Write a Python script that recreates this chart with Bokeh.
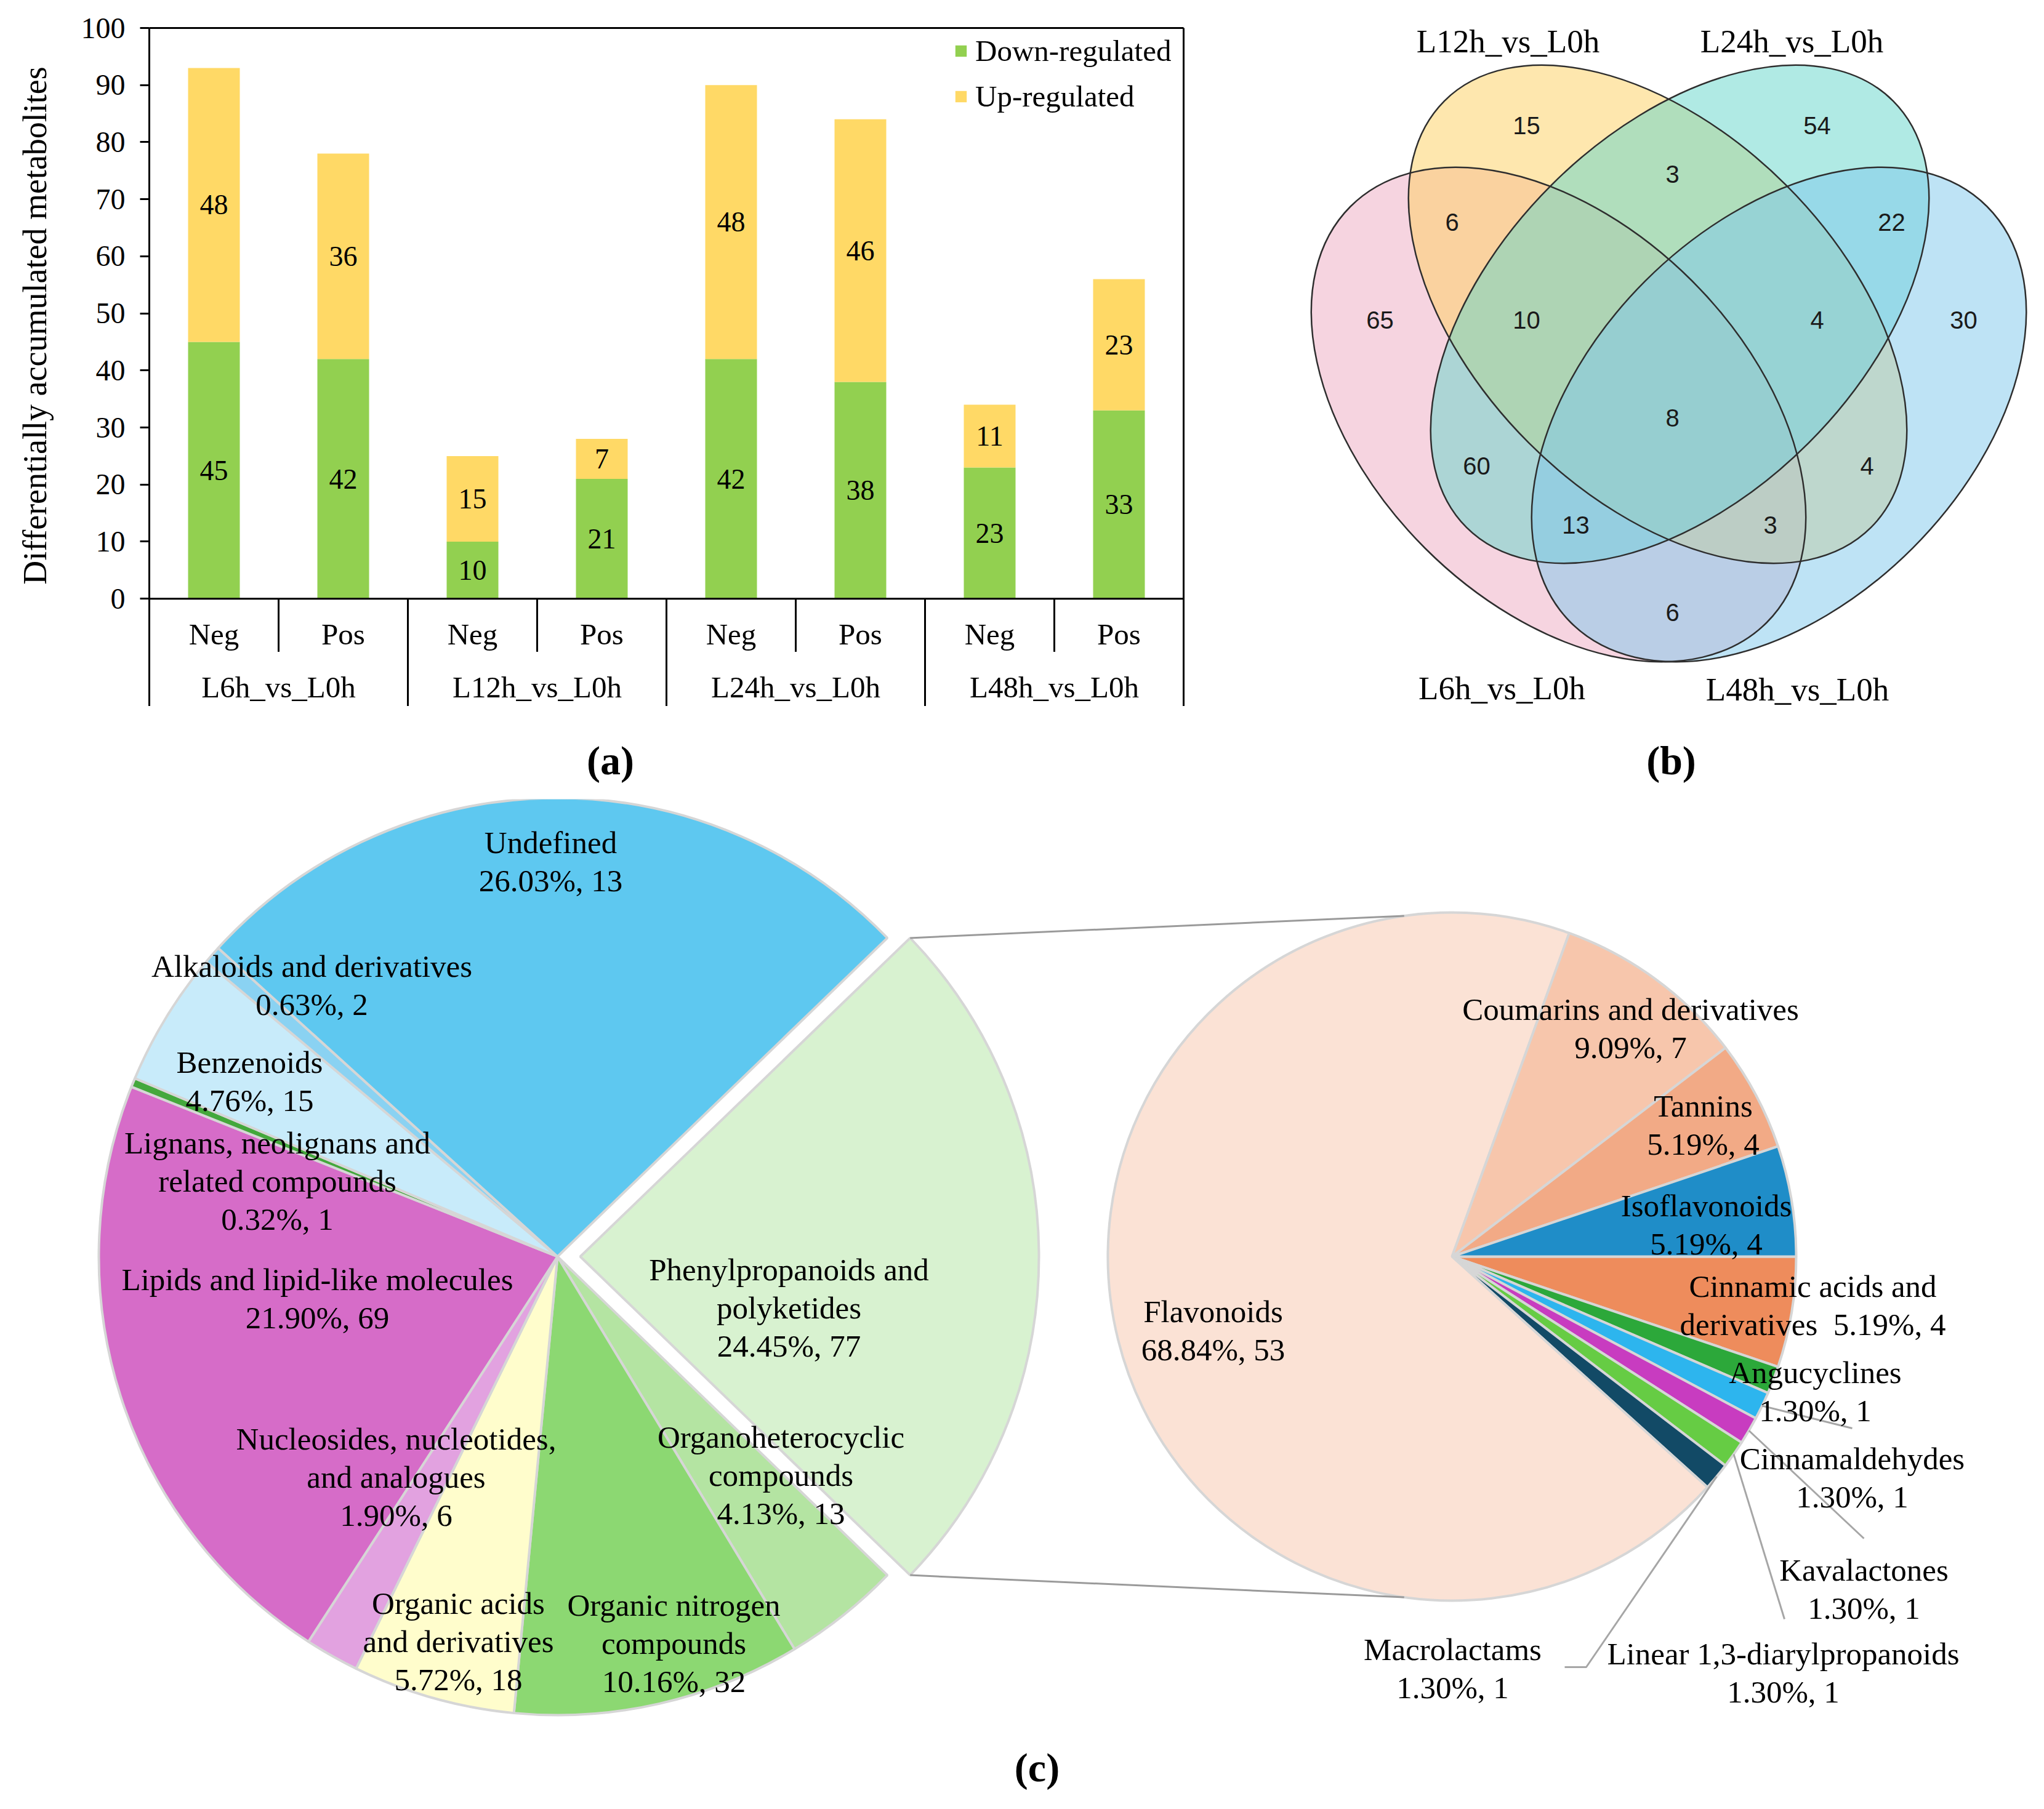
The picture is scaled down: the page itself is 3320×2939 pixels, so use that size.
import math
from bokeh.plotting import figure
from bokeh.layouts import row, column
from bokeh.models import (Range1d, LinearAxis, FixedTicker, Span, ColumnDataSource,
                          Legend, LegendItem)
from bokeh.core.properties import value
from bokeh.embed import file_html
from bokeh.resources import INLINE

# ======================= DATA =======================
# (a) stacked bars
groups = ["L6h_vs_L0h", "L12h_vs_L0h", "L24h_vs_L0h", "L48h_vs_L0h"]
modes = ["Neg", "Pos"]
down_regulated = [45, 42, 10, 21, 42, 38, 23, 33]
up_regulated = [48, 36, 15, 7, 48, 46, 11, 23]
y_ticks = [0, 10, 20, 30, 40, 50, 60, 70, 80, 90, 100]
series_names = ["Down-regulated", "Up-regulated"]
y_title = "Differentially accumulated metabolites"

# (b) Venn: membership code = (L6h, L12h, L24h, L48h)
venn_sets = ["L6h_vs_L0h", "L12h_vs_L0h", "L24h_vs_L0h", "L48h_vs_L0h"]
venn_regions = ["1000", "0100", "0010", "0001", "1100", "0110", "0011", "1010",
                "0101", "1001", "1110", "0111", "1011", "1101", "1111"]
venn_counts = [65, 15, 54, 30, 6, 3, 22, 60, 4, 6, 10, 4, 13, 3, 8]

# (c) pie of pie, listed clockwise
main_classes = ["Phenylpropanoids and polyketides", "Organoheterocyclic compounds",
                "Organic nitrogen compounds", "Organic acids and derivatives",
                "Nucleosides, nucleotides, and analogues", "Lipids and lipid-like molecules",
                "Lignans, neolignans and related compounds", "Benzenoids",
                "Alkaloids and derivatives", "Undefined"]
main_percent = [24.45, 4.13, 10.16, 5.72, 1.90, 21.90, 0.32, 4.76, 0.63, 26.03]
main_count = [77, 13, 32, 18, 6, 69, 1, 15, 2, 13]

sub_classes = ["Cinnamic acids and derivatives", "Angucyclines", "Cinnamaldehydes",
               "Kavalactones", "Linear 1,3-diarylpropanoids", "Macrolactams",
               "Flavonoids", "Coumarins and derivatives", "Tannins", "Isoflavonoids"]
sub_percent = [5.19, 1.30, 1.30, 1.30, 1.30, 1.30, 68.84, 9.09, 5.19, 5.19]
sub_count = [4, 1, 1, 1, 1, 1, 53, 7, 4, 4]

# ======================= STYLE / LAYOUT =======================
SERIF = "Liberation Serif"
SANS = "Liberation Sans"
PAGE_H = 2939
GREEN, YELLOW = "#92D050", "#FFD966"
TOP_H = 1147      # bottom of the top row (page px)
STRIP_H = 151     # strip holding the (a)/(b) captions
W_A = 2048
W_TOT = 3316
C_H = 1637
NBSP = "\u00a0"


def U(y):
    """page y (down) -> y-up units"""
    return PAGE_H - y


# ---------- (a) ----------
Y_BOTTOM = -18.85
n = len(down_regulated)
pa = figure(width=W_A, height=TOP_H, x_range=Range1d(0, n), y_range=Range1d(Y_BOTTOM, 100),
            x_axis_type=None, y_axis_type=None, output_backend="svg", toolbar_location=None,
            min_border_left=242, min_border_right=126, min_border_top=45, min_border_bottom=0)
pa.outline_line_color = None
pa.grid.visible = False

# leading no-break spaces lift the title so it is centred on the 0-100 span
yax = LinearAxis(ticker=FixedTicker(ticks=y_ticks), axis_label=NBSP * 10 + y_title)
yax.axis_line_width = 3
yax.axis_line_color = "black"
yax.major_tick_out = 15
yax.major_tick_in = 0
yax.major_tick_line_width = 3
yax.minor_tick_line_color = None
yax.major_label_text_font = SERIF
yax.major_label_text_font_size = "48px"
yax.major_label_text_color = "black"
yax.major_label_standoff = 24
yax.axis_label_text_font = SERIF
yax.axis_label_text_font_size = "54px"
yax.axis_label_text_font_style = "normal"
yax.axis_label_text_color = "black"
yax.axis_label_standoff = 42
pa.add_layout(yax, "left")

for side in ("above", "right"):
    ax = LinearAxis(ticker=FixedTicker(ticks=[]))
    ax.axis_line_width = 3
    ax.axis_line_color = "black"
    ax.major_tick_line_color = None
    ax.minor_tick_line_color = None
    ax.major_label_text_font_size = "0px"
    pa.add_layout(ax, side)

pa.add_layout(Span(location=0, dimension="width", line_color="black", line_width=3))

xs = [i + 0.5 for i in range(n)]
src = ColumnDataSource(dict(x=xs, down=down_regulated, up=up_regulated))
rs = pa.vbar_stack(["down", "up"], x="x", width=0.4, color=[GREEN, YELLOW],
                   line_color=None, source=src)

lab_x, lab_y, lab_t = [], [], []
for x, d, u in zip(xs, down_regulated, up_regulated):
    lab_x += [x, x]
    lab_y += [d / 2, d + u / 2]
    lab_t += [str(d), str(u)]
pa.text(x=lab_x, y=lab_y, text=lab_t, text_font=value(SERIF), text_font_size=value("46px"),
        text_align="center", text_baseline="middle", text_color="black")

sub_labels = [m for g in groups for m in modes]
pa.text(x=xs, y=[-6.26] * n, text=sub_labels, text_font=value(SERIF),
        text_font_size=value("49px"), text_align="center", text_baseline="middle",
        text_color="black")
gx = [len(modes) * (i + 0.5) for i in range(len(groups))]
pa.text(x=gx, y=[-15.5] * len(groups), text=groups, text_font=value(SERIF),
        text_font_size=value("49px"), text_align="center", text_baseline="middle",
        text_color="black")
sx0, sx1, sy0, sy1 = [], [], [], []
for i in range(1, n):
    sx0.append(i); sx1.append(i); sy0.append(0)
    sy1.append(Y_BOTTOM if i % len(modes) == 0 else -9.3)
pa.segment(x0=sx0, y0=sy0, x1=sx1, y1=sy1, line_color="black", line_width=3)

legend = Legend(items=[LegendItem(label=series_names[0], renderers=[rs[0]]),
                       LegendItem(label=series_names[1], renderers=[rs[1]])],
                location=(1307, 962))
legend.glyph_width = 23
legend.glyph_height = 23
legend.label_height = 57
legend.spacing = 17
legend.padding = 0
legend.margin = 0
legend.label_standoff = 12
legend.label_text_font = SERIF
legend.label_text_font_size = "49px"
legend.label_text_color = "black"
legend.border_line_color = None
legend.background_fill_alpha = 0
pa.add_layout(legend)

# ---------- (b) Venn ----------
pb = figure(width=W_TOT - W_A, height=TOP_H, x_range=Range1d(W_A, W_TOT),
            y_range=Range1d(U(TOP_H), U(45)),
            x_axis_type=None, y_axis_type=None, output_backend="svg", toolbar_location=None,
            min_border_left=0, min_border_right=0, min_border_top=45, min_border_bottom=0)
pb.outline_line_color = None
pb.grid.visible = False

# ellipse layout (page px): pink L6h, yellow L12h, teal L24h, blue L48h
ell_cx = [2531, 2692, 2728, 2889]
ell_cy = [673, 510, 510, 673]
ell_w = [956, 980, 980, 956]
ell_h = [614, 592, 592, 614]
ell_ang = [-math.pi / 4, -math.pi / 4, math.pi / 4, math.pi / 4]
ell_col = ["#EDA9C1", "#FDCF5D", "#61D5C9", "#7DC7EB"]
for i in range(4):
    pb.ellipse(x=[ell_cx[i]], y=[U(ell_cy[i])], width=[ell_w[i]], height=[ell_h[i]],
               angle=[ell_ang[i]], fill_color=ell_col[i], fill_alpha=0.5, line_color=None)
pb.ellipse(x=ell_cx, y=[U(v) for v in ell_cy], width=ell_w, height=ell_h, angle=ell_ang,
           fill_color=None, line_color="#2e2e2e", line_width=2.5)

region_pos = {"1000": (2241, 519), "0100": (2479, 203), "0010": (2951, 203), "0001": (3189, 519),
              "1100": (2358, 360), "0110": (2716, 282), "0011": (3072, 360), "1010": (2398, 756),
              "0101": (3032, 756), "1001": (2716, 994), "1110": (2479, 519), "0111": (2951, 519),
              "1011": (2559, 852), "1101": (2875, 852), "1111": (2716, 678)}
pb.text(x=[region_pos[r][0] for r in venn_regions], y=[U(region_pos[r][1]) for r in venn_regions],
        text=[str(c) for c in venn_counts], text_font=value(SANS), text_font_size=value("40px"),
        text_align="center", text_baseline="middle", text_color="#1a1a1a")

set_label_pos = [(2439, 1117), (2449, 66), (2910, 66), (2919, 1119)]
pb.text(x=[p[0] for p in set_label_pos], y=[U(p[1]) for p in set_label_pos], text=venn_sets,
        text_font=value(SERIF), text_font_size=value("53px"), text_align="center",
        text_baseline="middle", text_color="black")

# ---------- caption strip (a) (b) ----------
ps = figure(width=W_TOT, height=STRIP_H, x_range=Range1d(0, W_TOT),
            y_range=Range1d(U(TOP_H + STRIP_H), U(TOP_H)),
            x_axis_type=None, y_axis_type=None, output_backend="svg", toolbar_location=None,
            min_border=0)
ps.outline_line_color = None
ps.grid.visible = False
ps.text(x=[991, 2714], y=[U(1235), U(1235)], text=["(a)", "(b)"], text_font=value(SERIF),
        text_font_size=value("66px"), text_font_style="bold", text_align="center",
        text_baseline="middle", text_color="black")

# ---------- (c) pie of pie ----------
C_TOP = TOP_H + STRIP_H
pc = figure(width=W_TOT, height=C_H, x_range=Range1d(0, W_TOT),
            y_range=Range1d(U(C_TOP + C_H), U(C_TOP)),
            x_axis_type=None, y_axis_type=None, output_backend="svg", toolbar_location=None,
            min_border=0)
pc.outline_line_color = None
pc.grid.visible = False

C1 = (905, 2041); R1 = 745; EXPLODE = 37
C2 = (2358, 2041); R2 = 559
main_colors = ["#D8F2D0", "#B4E4A2", "#8CD872", "#FFFDCC", "#E2A2E0", "#D66CC8",
               "#44A83C", "#C8EBFA", "#8AD2F2", "#5EC8F0"]
sub_colors = ["#EE8C5C", "#2CA83A", "#2DB5EE", "#C83CC0", "#66CC44", "#124A66",
              "#FBE2D5", "#F7C6AC", "#F2AA86", "#1F8DC8"]


def clockwise_angles(percents, a0_deg):
    los, his, mids = [], [], []
    cum = 0.0
    for pct in percents:
        span = pct / 100.0 * 360.0
        hi = a0_deg - cum
        lo = hi - span
        los.append(math.radians(lo)); his.append(math.radians(hi))
        mids.append(math.radians((lo + hi) / 2))
        cum += span
    return los, his, mids


lo1, hi1, mid1 = clockwise_angles(main_percent, main_percent[0] / 100 * 360 / 2)
x1 = [C1[0] + (EXPLODE if i == 0 else 0) for i in range(len(main_classes))]
pc.wedge(x=x1, y=[U(C1[1])] * len(x1), radius=R1, start_angle=lo1, end_angle=hi1,
         fill_color=main_colors, line_color="#d6d6d6", line_width=4)

lo2, hi2, mid2 = clockwise_angles(sub_percent, 0.0)
pc.wedge(x=[C2[0]] * len(sub_classes), y=[U(C2[1])] * len(sub_classes), radius=R2,
         start_angle=lo2, end_angle=hi2, fill_color=sub_colors, line_color="#d6d6d6",
         line_width=4)

cx_e = C1[0] + EXPLODE
cxs, cys = [], []
for sgn in (1, -1):
    a = sgn * math.radians(main_percent[0] / 100 * 360 / 2)
    b = math.radians(sgn * 98)
    cxs.append([cx_e + R1 * math.cos(a), C2[0] + R2 * math.cos(b)])
    cys.append([U(C1[1]) + R1 * math.sin(a), U(C2[1]) + R2 * math.sin(b)])
pc.multi_line(xs=cxs, ys=cys, line_color="#9a9a9a", line_width=3)

leader_end = {"Cinnamaldehydes": [(3008, 2320)], "Kavalactones": [(3027, 2499)],
              "Linear 1,3-diarylpropanoids": [(2898, 2630)],
              "Macrolactams": [(2576, 2708), (2541, 2708)]}
lxs, lys = [], []
for name, pts in leader_end.items():
    i = sub_classes.index(name)
    lxs.append([C2[0] + R2 * math.cos(mid2[i])] + [p[0] for p in pts])
    lys.append([U(C2[1]) + R2 * math.sin(mid2[i])] + [U(p[1]) for p in pts])
pc.multi_line(xs=lxs, ys=lys, line_color="#a6a6a6", line_width=3)

main_label = {  # first-line centre (page px), name lines
    "Undefined": ((894, 1368), ["Undefined"]),
    "Alkaloids and derivatives": ((506, 1569), ["Alkaloids and derivatives"]),
    "Benzenoids": ((405, 1725), ["Benzenoids"]),
    "Lignans, neolignans and related compounds": ((450, 1856), ["Lignans, neolignans and", "related compounds"]),
    "Lipids and lipid-like molecules": ((515, 2078), ["Lipids and lipid-like molecules"]),
    "Nucleosides, nucleotides, and analogues": ((643, 2337), ["Nucleosides, nucleotides,", "and analogues"]),
    "Organic acids and derivatives": ((744, 2604), ["Organic acids", "and derivatives"]),
    "Organic nitrogen compounds": ((1094, 2607), ["Organic nitrogen", "compounds"]),
    "Organoheterocyclic compounds": ((1268, 2334), ["Organoheterocyclic", "compounds"]),
    "Phenylpropanoids and polyketides": ((1281, 2062), ["Phenylpropanoids and", "polyketides"]),
}
sub_label = {
    "Flavonoids": ((1970, 2130), ["Flavonoids"]),
    "Coumarins and derivatives": ((2648, 1639), ["Coumarins and derivatives"]),
    "Tannins": ((2766, 1796), ["Tannins"]),
    "Isoflavonoids": ((2771, 1958), ["Isoflavonoids"]),
    "Cinnamic acids and derivatives": ((2944, 2089), ["Cinnamic acids and", "derivatives" + NBSP * 2]),
    "Angucyclines": ((2948, 2229), ["Angucyclines"]),
    "Cinnamaldehydes": ((3008, 2369), ["Cinnamaldehydes"]),
    "Kavalactones": ((3027, 2550), ["Kavalactones"]),
    "Linear 1,3-diarylpropanoids": ((2896, 2686), ["Linear 1,3-diarylpropanoids"]),
    "Macrolactams": ((2359, 2679), ["Macrolactams"]),
}
LINE_STEP = 62
tx, ty, tt = [], [], []
for classes, pcts, cnts, lab in ((main_classes, main_percent, main_count, main_label),
                                 (sub_classes, sub_percent, sub_count, sub_label)):
    for name, pct, cnt in zip(classes, pcts, cnts):
        (x0, y0), lines = lab[name]
        lines = list(lines)
        ptxt = f"{pct:.2f}%, {cnt}"
        if lines[-1].endswith(NBSP):
            lines[-1] = lines[-1] + ptxt
        else:
            lines.append(ptxt)
        for k, ln in enumerate(lines):
            tx.append(x0); ty.append(U(y0 + k * LINE_STEP)); tt.append(ln)
pc.text(x=tx, y=ty, text=tt, text_font=value(SERIF), text_font_size=value("51px"),
        text_align="center", text_baseline="middle", text_color="black")
pc.text(x=[1684], y=[U(2871)], text=["(c)"], text_font=value(SERIF), text_font_size=value("66px"),
        text_font_style="bold", text_align="center", text_baseline="middle", text_color="black")

layout = column(row(pa, pb), ps, pc)
open("out.html", "w").write(file_html(layout, INLINE))
